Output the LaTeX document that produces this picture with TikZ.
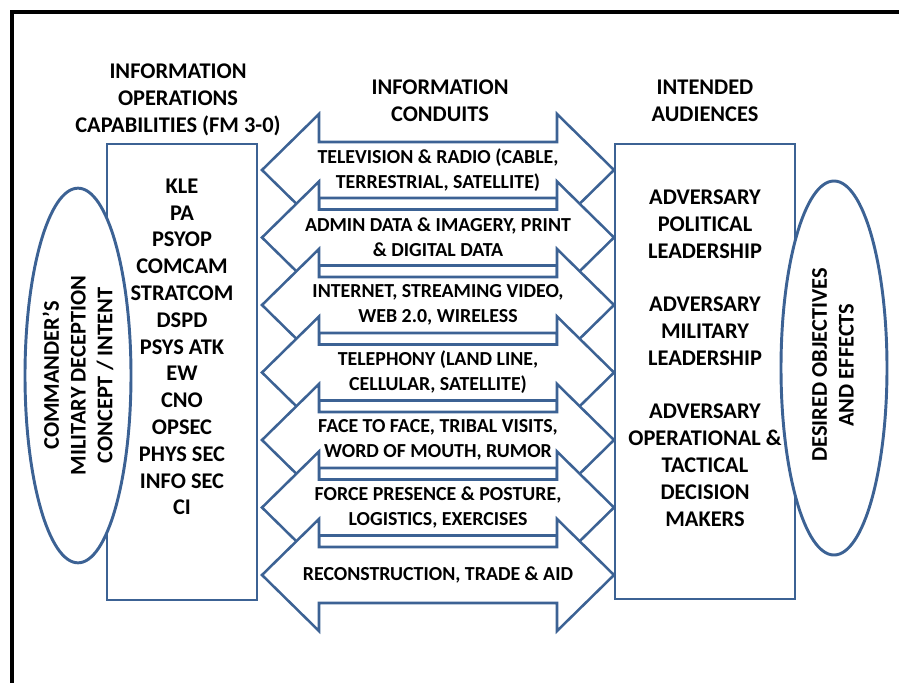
\documentclass[tikz,border=0pt]{standalone}
\usepackage{fontspec}
\setmainfont{Carlito}
\usetikzlibrary{shapes.geometric}
\definecolor{dblue}{RGB}{60,98,148}

\begin{document}
\begin{tikzpicture}[x=0.75pt,y=-0.75pt,
    outl/.style={draw=dblue,line width=2.2pt,fill=white},
    bigtxt/.style={font=\fontsize{16.8}{20.1}\selectfont\bfseries,align=center,inner sep=0pt},
    smalltxt/.style={font=\fontsize{14.9}{18.75}\selectfont\bfseries,align=center,inner sep=0pt}]
  \useasboundingbox (0,0) rectangle (899,682);
  \clip (0,0) rectangle (899,682);
  \draw[line width=2.3pt] (12,700) -- (12,12) -- (920,12);

  % left side
  \node[outl,minimum width=112.5pt,minimum height=342pt] (iocap) at (182,372) {};
  \node[outl,ellipse,minimum width=79.5pt,minimum height=281pt] (cmdr) at (78,375.5) {};

  % conduits
  \foreach \c/\t [count=\i] in {170/{TELEVISION \& RADIO (CABLE,\\TERRESTRIAL, SATELLITE)},
      237.5/{ADMIN DATA \& IMAGERY, PRINT\\\& DIGITAL DATA},
      305/{INTERNET, STREAMING VIDEO,\\WEB 2.0, WIRELESS},
      372.5/{TELEPHONY (LAND LINE,\\CELLULAR, SATELLITE)},
      440/{FACE TO FACE, TRIBAL VISITS,\\WORD OF MOUTH, RUMOR},
      507.5/{FORCE PRESENCE \& POSTURE,\\LOGISTICS, EXERCISES},
      575/{RECONSTRUCTION, TRADE \& AID}} {
    \draw[outl,line width=1.9pt] (262,\c) -- (319,\c-56) -- (319,\c-28) -- (557,\c-28)
      -- (557,\c-56) -- (614,\c) -- (557,\c+56) -- (557,\c+28) -- (319,\c+28)
      -- (319,\c+56) -- cycle;
    \node[smalltxt] (cond\i) at (438,\c) {\t};
  }

  % right side
  \node[outl,minimum width=135pt,minimum height=341.25pt] (audbox) at (705,371.5) {};
  \node[outl,ellipse,minimum width=79.5pt,minimum height=280.5pt] (goal) at (834,368) {};

  % texts
  \node[bigtxt] (iohead) at (178,100) {INFORMATION\\OPERATIONS\\CAPABILITIES (FM 3-0)};
  \node[bigtxt] (condhead) at (440,101) {INFORMATION\\CONDUITS};
  \node[bigtxt] (audhead) at (705,101) {INTENDED\\AUDIENCES};
  \node[bigtxt] (iolist) at (182,347) {KLE\\PA\\PSYOP\\COMCAM\\STRATCOM\\DSPD\\PSYS ATK\\EW\\CNO\\OPSEC\\PHYS SEC\\INFO SEC\\CI};
  \node[bigtxt] (audlist) at (705,358) {ADVERSARY\\POLITICAL\\LEADERSHIP\\[20.1pt]ADVERSARY\\MILITARY\\LEADERSHIP\\[20.1pt]ADVERSARY\\OPERATIONAL \&\\TACTICAL\\DECISION\\MAKERS};
  \node[bigtxt,rotate=90] (cmdrtxt) at (cmdr) {COMMANDER’S\\MILITARY DECEPTION\\CONCEPT / INTENT};
  \node[bigtxt,rotate=90] (goaltxt) at (833,365) {DESIRED OBJECTIVES\\AND EFFECTS};
\end{tikzpicture}
\end{document}
